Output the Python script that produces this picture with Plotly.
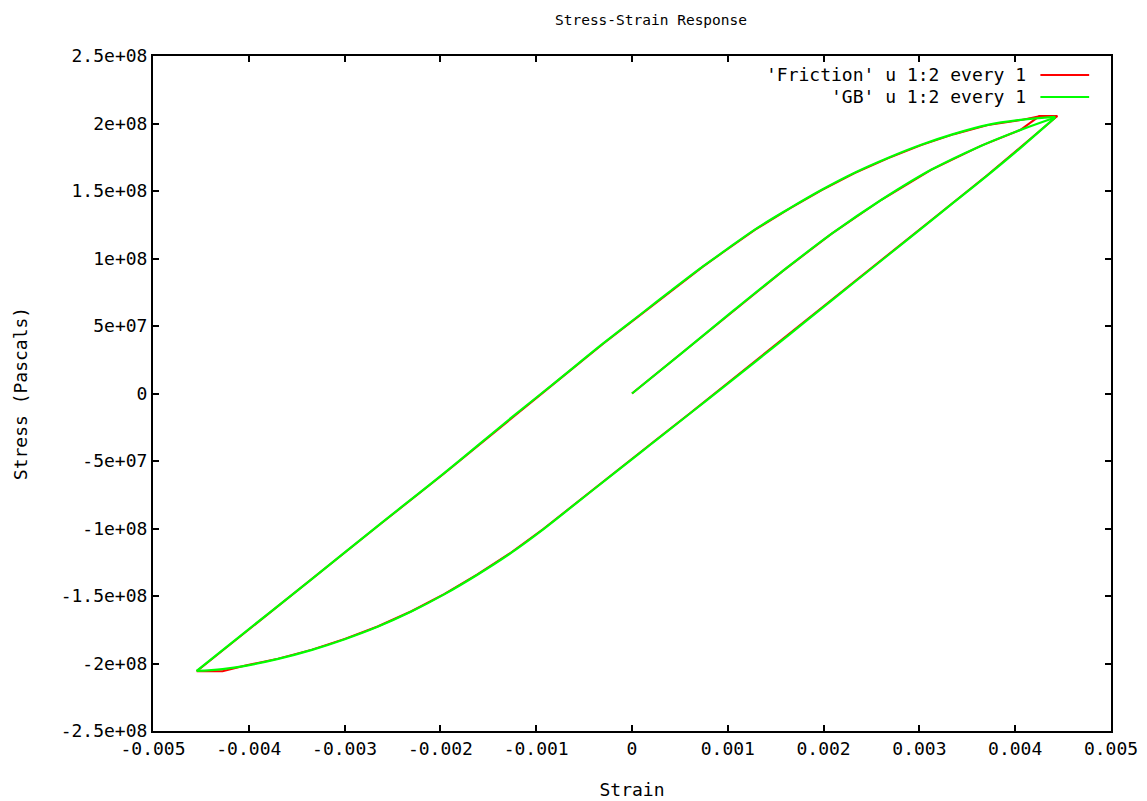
import plotly.graph_objects as go

# ---- data (strain, stress) ----
gb_strain = [
    0.0, 0.000529, 0.001048, 0.001566, 0.002085, 0.002604, 0.003122, 0.003641, 0.004056, 0.004419,
    0.004056, 0.003714, 0.003361, 0.003019, 0.002676, 0.002324, 0.001981, 0.001639, 0.001286,
    0.000944, 0.000602, 0.000249, 0.000114, -0.000228, -0.000581, -0.000923, -0.001266, -0.001618,
    -0.001961, -0.002303, -0.002656, -0.002998, -0.003340, -0.003693, -0.004035, -0.004274, -0.004544,
    -0.004035, -0.003340, -0.002656, -0.001961, -0.001266, -0.000788, -0.000301, 0.000114, 0.000394,
    0.000737, 0.000944, 0.001286, 0.001639, 0.001981, 0.002324, 0.002676, 0.003019, 0.003361,
    0.003714, 0.004056, 0.004419,
]
gb_stress = [
    0.0, 30.5e6, 60.8e6, 90.3e6, 118.4e6, 143.5e6, 165.7e6, 183.4e6, 195.3e6, 204.5e6,
    182.0e6, 161.8e6, 141.7e6, 122.2e6, 102.6e6, 82.6e6, 63.0e6, 43.5e6, 23.4e6,
    4.2e6, -15.0e6, -34.7e6, -42.3e6, -61.4e6, -81.2e6, -100.4e6, -118.2e6, -134.4e6,
    -148.8e6, -161.5e6, -172.8e6, -182.0e6, -189.9e6, -196.6e6, -201.7e6, -204.1e6, -205.5e6,
    -176.5e6, -137.3e6, -98.2e6, -59.0e6, -18.3e6, 9.0e6, 37.1e6, 60.0e6, 75.5e6,
    94.0e6, 104.5e6, 121.6e6, 136.9e6, 150.9e6, 163.5e6, 174.6e6, 184.2e6, 192.3e6,
    199.0e6, 202.7e6, 204.9e6,
]
# indices where the loading direction reverses (loading | unloading | reloading)
gb_turns = [0, 9, 36, len(gb_strain) - 1]

friction_strain = [
    0.0, 0.000529, 0.001048, 0.001566, 0.002085, 0.002604, 0.003122, 0.003641, 0.004056, 0.004253, 0.004440,
    0.004056, 0.003714, 0.003361, 0.003019, 0.002676, 0.002324, 0.001981, 0.001639, 0.001286,
    0.000944, 0.000602, 0.000249, 0.000114, -0.000228, -0.000581, -0.000923, -0.001266, -0.001618,
    -0.001961, -0.002303, -0.002656, -0.002998, -0.003340, -0.003693, -0.004035, -0.004274, -0.004544,
    -0.004035, -0.003340, -0.002656, -0.001961, -0.001266, -0.000788, -0.000301, 0.000114, 0.000394,
    0.000737, 0.000944, 0.001286, 0.001639, 0.001981, 0.002324, 0.002676, 0.003019, 0.003361,
    0.003714, 0.004056, 0.004253, 0.004440,
]
friction_stress = [
    0.0, 30.5e6, 60.8e6, 90.3e6, 118.4e6, 143.5e6, 165.7e6, 183.4e6, 195.3e6, 205.5e6, 205.5e6,
    182.3e6, 162.0e6, 141.9e6, 122.4e6, 102.8e6, 82.8e6, 63.2e6, 43.7e6, 23.6e6,
    4.4e6, -14.8e6, -34.5e6, -42.1e6, -61.2e6, -81.0e6, -100.2e6, -118.0e6, -134.2e6,
    -148.6e6, -161.3e6, -172.6e6, -181.8e6, -189.7e6, -196.4e6, -201.5e6, -205.8e6, -205.8e6,
    -176.7e6, -137.5e6, -98.4e6, -59.2e6, -18.5e6, 8.8e6, 36.9e6, 59.8e6, 75.3e6,
    93.8e6, 104.3e6, 121.4e6, 136.7e6, 150.7e6, 163.3e6, 174.4e6, 184.0e6, 192.1e6,
    198.8e6, 202.5e6, 205.3e6, 205.3e6,
]
friction_turns = [0, 10, 37, len(friction_strain) - 1]

x_tickvals = [-0.005, -0.004, -0.003, -0.002, -0.001, 0, 0.001, 0.002, 0.003, 0.004, 0.005]
x_ticktext = ["-0.005", "-0.004", "-0.003", "-0.002", "-0.001", "0", "0.001", "0.002", "0.003", "0.004", "0.005"]
y_tickvals = [2.5e8, 2e8, 1.5e8, 1e8, 5e7, 0, -5e7, -1e8, -1.5e8, -2e8, -2.5e8]
y_ticktext = ["2.5e+08", "2e+08", "1.5e+08", "1e+08", "5e+07", "0", "-5e+07", "-1e+08", "-1.5e+08", "-2e+08", "-2.5e+08"]

series_names = ["'Friction' u 1:2 every 1", "'GB' u 1:2 every 1"]
series_colors = ["#ff0000", "#00ff00"]

FONT = "DejaVu Sans Mono"
FS = 18

fig = go.Figure()
# Friction drawn first (underneath)
for a, b in zip(friction_turns[:-1], friction_turns[1:]):
    fig.add_trace(go.Scatter(x=friction_strain[a:b + 1], y=friction_stress[a:b + 1], mode="lines",
                             line=dict(color=series_colors[0], width=2),
                             name=series_names[0], legendgroup=series_names[0], showlegend=False))
# GB on top, smoothed
for a, b in zip(gb_turns[:-1], gb_turns[1:]):
    fig.add_trace(go.Scatter(x=gb_strain[a:b + 1], y=gb_stress[a:b + 1], mode="lines",
                             line=dict(color=series_colors[1], width=2.2, shape="spline", smoothing=1.1),
                             name=series_names[1], legendgroup=series_names[1], showlegend=False))

axis_common = dict(
    showgrid=False, zeroline=False, showline=True, linecolor="black", linewidth=2,
    mirror="ticks", ticks="inside", ticklen=6, tickwidth=2, tickcolor="black",
    tickfont=dict(family=FONT, size=FS, color="black"),
)

fig.update_xaxes(range=[-0.005, 0.005], tickvals=x_tickvals, ticktext=x_ticktext,
                 title=dict(text="Strain", font=dict(family=FONT, size=FS, color="black"), standoff=26),
                 **axis_common)
fig.update_yaxes(range=[-2.5e8, 2.5e8], tickvals=y_tickvals, ticktext=y_ticktext,
                 title=dict(text="Stress (Pascals)", font=dict(family=FONT, size=FS, color="black"), standoff=28),
                 **axis_common)

# gnuplot-style legend: text right-aligned, sample line to the right
legend_rows_y = [0.9719, 0.9394]
for name, color, yy in zip(series_names, series_colors, legend_rows_y):
    fig.add_annotation(x=0.9129, y=yy, xref="paper", yref="paper", text=name,
                       showarrow=False, xanchor="right", yanchor="middle",
                       font=dict(family=FONT, size=FS, color="black"))
    fig.add_shape(type="line", xref="paper", yref="paper", x0=0.9263, x1=0.9772, y0=yy, y1=yy,
                  line=dict(color=color, width=2))

# page has an 8px body margin, so margins are shifted to land the frame where the reference has it
fig.update_layout(
    width=1147, height=801,
    margin=dict(l=139, r=44, t=48, b=76.5),
    paper_bgcolor="white", plot_bgcolor="white",
    title=dict(text="Stress-Strain Response", x=0.5606, xanchor="center", y=0.9845, yanchor="middle",
               yref="container", font=dict(family=FONT, size=14.5, color="black")),
    showlegend=False,
)

fig.write_html("out.html")
